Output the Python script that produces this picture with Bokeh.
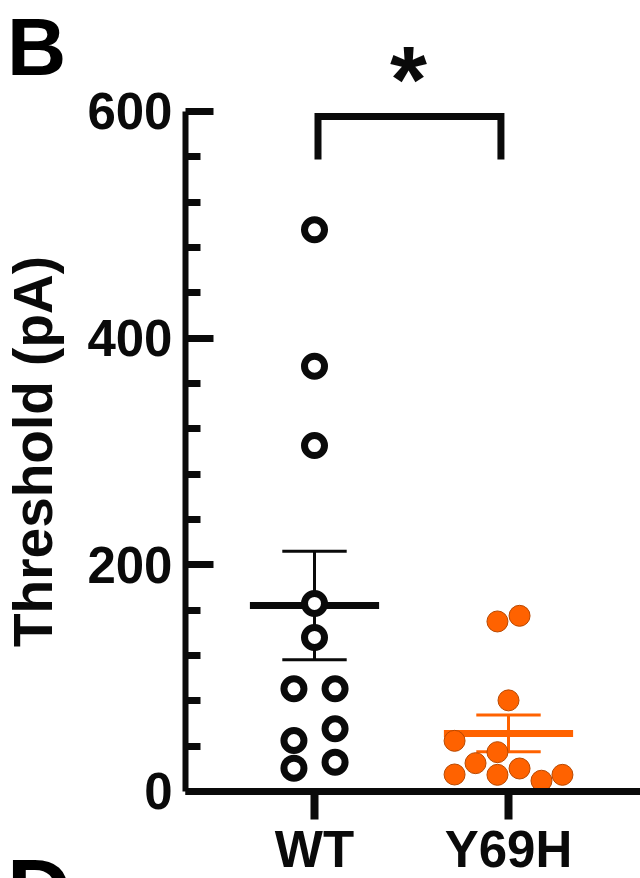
import numpy as np
from bokeh.plotting import figure
from bokeh.models import FixedTicker, Range1d, ColumnDataSource
from bokeh.core.properties import value
from bokeh.embed import file_html
from bokeh.resources import INLINE

# ---- data ----
categories = ["WT", "Y69H"]
wt_values = [495.5, 375.2, 305.2, 165.9, 135.9, 90.6, 90.6, 45.0, 55.3, 20.6, 25.9]
wt_jitter = [0, 0, 0, 0, 0, -0.106, 0.106, -0.106, 0.106, -0.106, 0.106]
y69h_values = [150.0, 155.0, 80.4, 44.7, 34.7, 25.0, 15.0, 14.7, 20.3, 9.5, 14.7]
y69h_jitter = [-0.057, 0.057, 0.0, -0.278, -0.057, -0.170, -0.278, -0.057, 0.057, 0.170, 0.278]
y_major_ticks = [0, 200, 400, 600]
y_minor_ticks = [40, 80, 120, 160, 240, 280, 320, 360, 440, 480, 520, 560]
y_label = "Threshold (pA)"
significance = "*"
panel_letter = "B"
next_panel_letter = "D"

FONT = "Liberation Sans"
BLACK = "#0a0a0a"
ORANGE = "#ff6200"
ORANGE_EDGE = "#b84800"

X0, X1 = -0.665, 1.680   # visible extent of the x axis
Y0, Y1 = 0, 600          # extent of the y axis

p = figure(width=640, height=878,
           x_range=Range1d(-1.6186, 1.6804), y_range=Range1d(-76.75, 697.8),
           output_backend="svg", toolbar_location=None,
           min_border_left=0, min_border_right=0,
           min_border_top=0, min_border_bottom=0)
p.outline_line_color = None
p.grid.visible = False
p.background_fill_color = "white"
p.border_fill_color = "white"

# ---- summary bars (mean +- SEM) ----
groups = [(0, wt_values, BLACK), (1, y69h_values, ORANGE)]
for xc, vals, col in groups:
    arr = np.array(vals)
    m = arr.mean()
    sem = arr.std(ddof=1) / np.sqrt(len(arr))
    p.segment(x0=[xc], y0=[m - sem], x1=[xc], y1=[m + sem], line_color=col, line_width=3)
    p.segment(x0=[xc - 0.166, xc - 0.166], y0=[m - sem, m + sem],
              x1=[xc + 0.166, xc + 0.166], y1=[m - sem, m + sem], line_color=col, line_width=3)
    p.segment(x0=[xc - 0.333], y0=[m], x1=[xc + 0.333], y1=[m], line_color=col, line_width=7)

# ---- points ----
wt_src = ColumnDataSource(dict(x=[0 + j for j in wt_jitter], y=wt_values))
y_src = ColumnDataSource(dict(x=[1 + j for j in y69h_jitter], y=y69h_values))
p.scatter("x", "y", source=wt_src, marker="circle", size=20,
          fill_color="white", line_color=BLACK, line_width=7)
p.scatter("x", "y", source=y_src, marker="circle", size=21,
          fill_color=ORANGE, line_color=ORANGE_EDGE, line_width=1)

# ---- significance bracket ----
p.line(x=[0.018, 0.018, 0.961, 0.961], y=[557.6, 595.5, 595.5, 557.6],
       line_color=BLACK, line_width=7, line_join="miter")
p.text(x=[0.485], y=[628.2], text=[significance], text_align="center",
       text_baseline="middle", text_font=value(FONT), text_font_style="bold",
       text_font_size="95px", text_color=BLACK)

# ---- panel letters ----
p.text(x=[-1.585], y=[657.5], text=[panel_letter],
       text_align="left", text_baseline="middle", text_font=value(FONT),
       text_font_style="bold", text_font_size="82px", text_color="black")
p.text(x=[-1.585], y=[-86.5], text=[next_panel_letter],
       text_align="left", text_baseline="middle", text_font=value(FONT),
       text_font_style="bold", text_font_size="89px", text_color="black")

# ---- axes ----
ya = p.yaxis[0]
ya.fixed_location = X0
ya.bounds = (Y0, Y1)
ya.ticker = FixedTicker(ticks=y_major_ticks, minor_ticks=y_minor_ticks)
ya.axis_line_width = 6
ya.axis_line_color = BLACK
ya.major_tick_in = 28
ya.major_tick_out = 0
ya.minor_tick_in = 15
ya.minor_tick_out = 0
ya.major_tick_line_width = 7
ya.minor_tick_line_width = 7
ya.major_tick_line_color = BLACK
ya.minor_tick_line_color = BLACK
ya.major_label_standoff = 13
ya.major_label_text_font = FONT
ya.major_label_text_font_style = "bold"
ya.major_label_text_font_size = "51px"
ya.major_label_text_color = BLACK
ya.axis_label = y_label
ya.axis_label_text_font = FONT
ya.axis_label_text_font_style = "bold"
ya.axis_label_text_font_size = "55px"
ya.axis_label_text_color = BLACK
ya.axis_label_standoff = 20

xa = p.xaxis[0]
xa.fixed_location = Y0
xa.bounds = (X0, X1)
xa.ticker = FixedTicker(ticks=[0, 1], minor_ticks=[])
xa.major_label_overrides = {0: categories[0], 1: categories[1]}
xa.axis_line_width = 7
xa.axis_line_color = BLACK
xa.major_tick_in = 0
xa.major_tick_out = 28
xa.minor_tick_in = 0
xa.minor_tick_out = 0
xa.major_tick_line_width = 8
xa.major_tick_line_color = BLACK
xa.major_label_standoff = 2
xa.major_label_text_font = FONT
xa.major_label_text_font_style = "bold"
xa.major_label_text_font_size = "51px"
xa.major_label_text_color = BLACK

open("out.html", "w").write(file_html(p, INLINE))
